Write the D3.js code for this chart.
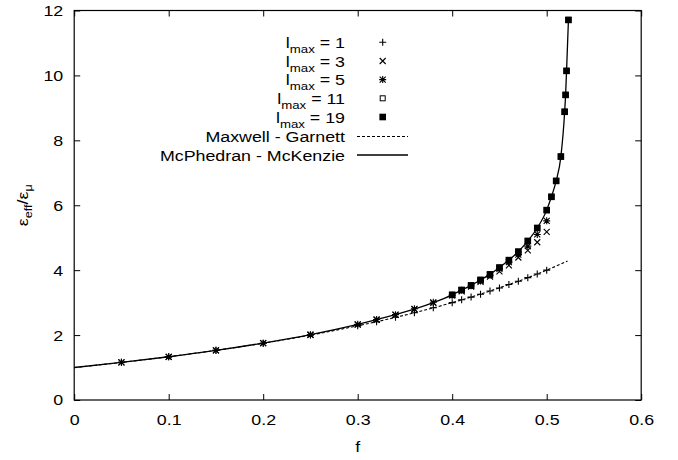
<!DOCTYPE html>
<html>
<head>
<meta charset="utf-8">
<script src="https://cdn.jsdelivr.net/npm/d3@7"></script>
<style>
  html, body { margin: 0; padding: 0; background: #fff; }
  svg { display: block; font-family: "Liberation Sans", Arial, Helvetica, sans-serif; }
</style>
</head>
<body>
<svg id="chart" width="678" height="460"></svg>
<script>
// ---- data ----
const xTicks = [0, 0.1, 0.2, 0.3, 0.4, 0.5, 0.6];
const xTickLabels = ["0", "0.1", "0.2", "0.3", "0.4", "0.5", "0.6"];
const yTicks = [0, 2, 4, 6, 8, 10, 12];
const yTickLabels = ["0", "2", "4", "6", "8", "10", "12"];

const fLow = [0.05, 0.1, 0.15, 0.2, 0.25, 0.3, 0.32, 0.34, 0.36, 0.38,
              0.40, 0.41, 0.42, 0.43, 0.44, 0.45, 0.46, 0.47, 0.48, 0.49, 0.50];
const epsLmax1 = [1.16, 1.33, 1.53, 1.75, 2.00, 2.29, 2.41, 2.55, 2.69, 2.84,
                  3.00, 3.09, 3.17, 3.26, 3.36, 3.45, 3.56, 3.66, 3.77, 3.88, 4.00];
const epsLmax3 = [1.16, 1.33, 1.53, 1.75, 2.01, 2.32, 2.47, 2.62, 2.79, 2.99,
                  3.22, 3.35, 3.49, 3.64, 3.80, 3.96, 4.15, 4.39, 4.61, 4.86, 5.18];
const epsLmax5 = [1.16, 1.33, 1.53, 1.75, 2.01, 2.33, 2.48, 2.63, 2.81, 3.01,
                  3.23, 3.38, 3.52, 3.67, 3.84, 4.04, 4.25, 4.48, 4.74, 5.10, 5.52];

const fHigh = [0.40, 0.41, 0.42, 0.43, 0.44, 0.45, 0.46, 0.47, 0.48, 0.49, 0.50,
               0.505, 0.51, 0.515, 0.519, 0.52, 0.521, 0.523];
const epsLmax11 = [3.24, 3.39, 3.53, 3.70, 3.87, 4.08, 4.31, 4.57, 4.90, 5.30, 5.85,
                   6.26, 6.75, 7.50, 8.88, 9.40, 10.14, 11.71];
const epsLmax19 = [3.24, 3.39, 3.53, 3.70, 3.87, 4.08, 4.31, 4.57, 4.90, 5.30, 5.85,
                   6.26, 6.75, 7.50, 8.88, 9.40, 10.14, 11.71];

const fMG = [0, 0.05, 0.1, 0.15, 0.2, 0.25, 0.3, 0.35, 0.4, 0.45, 0.5, 0.522];
const epsMG = [1.0, 1.158, 1.333, 1.529, 1.75, 2.0, 2.286, 2.615, 3.0, 3.455, 4.0, 4.28];

const fMM = [0, 0.05, 0.1, 0.15, 0.2, 0.25, 0.3, 0.32, 0.34, 0.36, 0.38,
             0.40, 0.41, 0.42, 0.43, 0.44, 0.45, 0.46, 0.47, 0.48, 0.49, 0.50,
             0.505, 0.51, 0.515, 0.519, 0.52, 0.521, 0.523];
const epsMM = [1.0, 1.158, 1.333, 1.53, 1.755, 2.015, 2.33, 2.475, 2.63, 2.80, 3.00,
               3.24, 3.39, 3.53, 3.70, 3.87, 4.08, 4.31, 4.57, 4.90, 5.30, 5.85,
               6.26, 6.75, 7.50, 8.88, 9.40, 10.14, 11.71];

const seriesNames = ["1", "3", "5", "11", "19"];
const lineNames = ["Maxwell - Garnett", "McPhedran - McKenzie"];

// ---- layout ----
const svg = d3.select("#chart");
const L = 74.2, R = 641.2, T = 10.5, B = 400;
const x = d3.scaleLinear().domain([0, 0.6]).range([L, R]);
const y = d3.scaleLinear().domain([0, 12]).range([B, T]);
const FS = 15.5, SX = 1.15;   // font size and horizontal stretch of the original lettering

// axes (ticks inward, mirrored)
const gx = svg.append("g").attr("transform", `translate(0,${B})`)
  .call(d3.axisBottom(x).tickValues(xTicks).tickFormat((d, i) => xTickLabels[i])
        .tickSizeInner(-6).tickSizeOuter(0).tickPadding(14));
const gxt = svg.append("g").attr("transform", `translate(0,${T})`)
  .call(d3.axisTop(x).tickValues(xTicks).tickFormat("").tickSizeInner(-6).tickSizeOuter(0));
const gy = svg.append("g").attr("transform", `translate(${L},0)`)
  .call(d3.axisLeft(y).tickValues(yTicks).tickFormat((d, i) => yTickLabels[i])
        .tickSizeInner(-6).tickSizeOuter(0).tickPadding(11));
const gyr = svg.append("g").attr("transform", `translate(${R},0)`)
  .call(d3.axisRight(y).tickValues(yTicks).tickFormat("").tickSizeInner(-6).tickSizeOuter(0));
[gx, gxt, gy, gyr].forEach(g => {
  g.select(".domain").remove();
  g.selectAll("line").attr("stroke", "#000").attr("stroke-width", 1);
  g.selectAll("text").attr("fill", "#000").style("font-size", FS + "px")
    .style("font-family", '"Liberation Sans", Arial, sans-serif');
});
gx.selectAll("text").attr("transform", `scale(${SX},1)`);
gy.selectAll("text").attr("x", -11 / SX).attr("transform", `scale(${SX},1)`);

// frame
svg.append("rect").attr("x", L).attr("y", T).attr("width", R - L).attr("height", B - T)
  .attr("fill", "none").attr("stroke", "#000").attr("stroke-width", 1.2);

// axis titles
svg.append("text").attr("transform", `translate(${(L + R) / 2},452) scale(${SX},1)`)
  .attr("text-anchor", "middle").style("font-size", FS + "px").text("f");
const yl = svg.append("text")
  .attr("transform", `translate(28,${(T + B) / 2}) rotate(-90) scale(${SX},1)`)
  .attr("text-anchor", "middle").style("font-size", FS + "px");
yl.append("tspan").text("ε");
yl.append("tspan").attr("dy", 4).style("font-size", "11px").text("eff");
yl.append("tspan").attr("dy", -4).text("/ε");
yl.append("tspan").attr("dy", 4).style("font-size", "11px").text("μ");

// markers
const S = 3.5;
const shapes = {
  plus: `M${-S},0H${S}M0,${-S}V${S}`,
  cross: `M-3,-3L3,3M-3,3L3,-3`,
  star: `M${-S},0H${S}M0,${-S}V${S}M-3,-3L3,3M-3,3L3,-3`
};
function drawPath(g, px, py, d) {
  g.append("path").attr("transform", `translate(${px},${py})`).attr("d", d)
    .attr("fill", "none").attr("stroke", "#000").attr("stroke-width", 1.1);
}
function drawOpenSq(g, px, py) {
  g.append("rect").attr("x", px - 2.5).attr("y", py - 2.5).attr("width", 5).attr("height", 5)
    .attr("fill", "#fff").attr("stroke", "#000").attr("stroke-width", 1);
}
function drawFillSq(g, px, py) {
  g.append("rect").attr("x", px - 3.3).attr("y", py - 3.3).attr("width", 6.6).attr("height", 6.6)
    .attr("fill", "#000");
}

const pts = svg.append("g");
fLow.forEach((f, i) => drawPath(pts, x(f), y(epsLmax1[i]), shapes.plus));
fLow.forEach((f, i) => drawPath(pts, x(f), y(epsLmax3[i]), shapes.cross));
fLow.forEach((f, i) => drawPath(pts, x(f), y(epsLmax5[i]), shapes.star));
fHigh.forEach((f, i) => drawOpenSq(pts, x(f), y(epsLmax11[i])));
fHigh.forEach((f, i) => drawFillSq(pts, x(f), y(epsLmax19[i])));

// curves
const line = d3.line().x(d => x(d[0])).y(d => y(d[1])).curve(d3.curveMonotoneX);
svg.append("path").datum(fMG.map((f, i) => [f, epsMG[i]])).attr("d", line)
  .attr("fill", "none").attr("stroke", "#000").attr("stroke-width", 1.1)
  .attr("stroke-dasharray", "3,2");
svg.append("path").datum(fMM.map((f, i) => [f, epsMM[i]])).attr("d", line)
  .attr("fill", "none").attr("stroke", "#000").attr("stroke-width", 1.3);

// legend
const lg = svg.append("g");
const textRight = 345, markX = 382.7, lineX0 = 357, lineX1 = 408;
const rowY = [42.3, 61, 79.6, 98.3, 117, 136.5, 155];
const markFns = [
  (px, py) => drawPath(lg, px, py, shapes.plus),
  (px, py) => drawPath(lg, px, py, shapes.cross),
  (px, py) => drawPath(lg, px, py, shapes.star),
  (px, py) => drawOpenSq(lg, px, py),
  (px, py) => drawFillSq(lg, px, py)
];
seriesNames.forEach((n, i) => {
  const t = lg.append("text")
    .attr("transform", `translate(${textRight},${rowY[i] + 5.5}) scale(${SX},1)`)
    .attr("text-anchor", "end").style("font-size", FS + "px");
  t.append("tspan").text("l");
  t.append("tspan").attr("dy", 5).style("font-size", "11.5px").text("max");
  t.append("tspan").attr("dy", -5).text(" = " + n);
  markFns[i](markX, rowY[i]);
});
lineNames.forEach((n, j) => {
  const yy = rowY[5 + j];
  lg.append("text")
    .attr("transform", `translate(${textRight},${yy + 5.5}) scale(${SX},1)`)
    .attr("text-anchor", "end").style("font-size", FS + "px").text(n);
  lg.append("line").attr("x1", lineX0).attr("x2", lineX1).attr("y1", yy).attr("y2", yy)
    .attr("stroke", "#000").attr("stroke-width", j === 0 ? 1.1 : 1.3)
    .attr("stroke-dasharray", j === 0 ? "3,2" : null);
});
</script>
</body>
</html>
